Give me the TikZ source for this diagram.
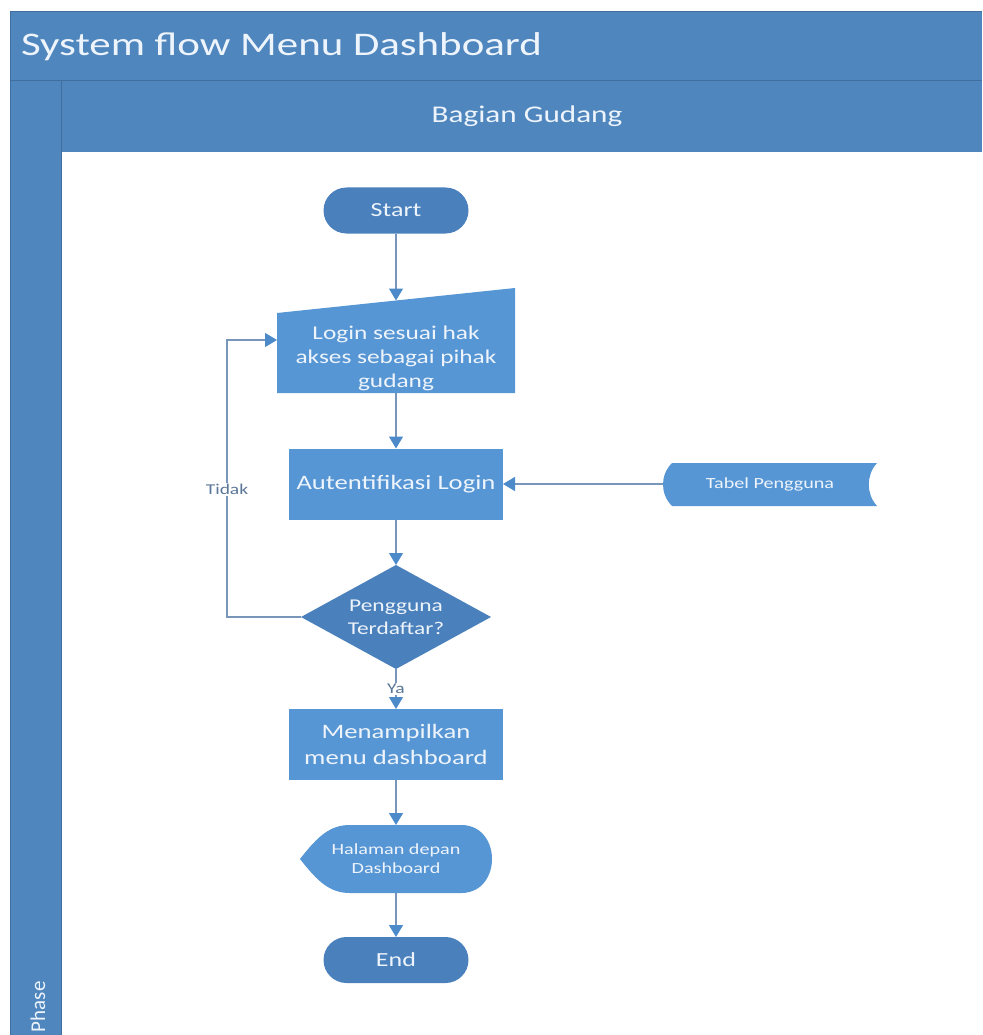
\documentclass[tikz,border=0pt]{standalone}
\usepackage{fontspec}
\setmainfont{Carlito}[FakeStretch=1.3]
\newfontfamily\phasefont{Carlito}
\usetikzlibrary{shapes.geometric,shapes.misc,arrows.meta}

\definecolor{bandblue}{HTML}{4F86BE}
\definecolor{bandline}{HTML}{3F6E9F}
\definecolor{procblue}{HTML}{5796D4}
\definecolor{termblue}{HTML}{4A80BC}
\definecolor{linkgray}{HTML}{7896BA}
\definecolor{tipblue}{HTML}{4C8AC9}
\definecolor{txtlight}{HTML}{EEF4FB}
\definecolor{lbltxt}{HTML}{5A7698}

\begin{document}
\begin{tikzpicture}[x=1pt,y=-1pt,
  every node/.style={inner sep=0pt, outer sep=0pt},
  arr/.style={draw=linkgray, line width=1.1pt,
    -{Triangle[width=14pt,length=12pt,color=tipblue]}},
  term/.style={rounded rectangle, fill=termblue, text=txtlight,
    minimum width=145pt, minimum height=46pt,
    font=\fontsize{20}{24}\selectfont},
  proc/.style={rectangle, fill=procblue, text=txtlight,
    minimum width=214pt, minimum height=71pt, align=center,
    font=\fontsize{20.5}{26}\selectfont},
  plain/.style={text=txtlight, align=center},
  lbl/.style={text=lbltxt, font=\fontsize{15}{18}\selectfont,
    fill=white, inner sep=1.5pt}
]
\useasboundingbox (0,0) rectangle (982,1035);
\fill[white] (0,0) rectangle (982,1035);

% swimlane frame
\fill[bandblue] (10,11) rectangle (982,1035);
\fill[white] (61,152) rectangle (982,1035);
\draw[bandline, line width=0.8pt] (10,1035) -- (10,11) -- (982,11);
\draw[bandline, line width=0.8pt] (10,80) -- (982,80);
\draw[bandline, line width=0.8pt] (61,80) -- (61,1035);

\node[anchor=base west, text=txtlight, font=\fontsize{33}{37}\selectfont]
  (title) at (21,56) {System flow Menu Dashboard};
\node[anchor=base, text=txtlight, font=\fontsize{24}{28}\selectfont]
  (lane) at (527,123) {Bagian Gudang};
\node[anchor=base west, rotate=90, text=txtlight,
  font=\phasefont\fontsize{21}{24}\selectfont]
  (phase) at (45,1032) {Phase};

% shape outlines that are not standard node shapes
\fill[procblue] (277,313) -- (515,288) -- (515,393) -- (277,393) -- cycle;
\fill[procblue] (672,463) -- (877,463)
  .. controls (866,475) and (866,494) .. (877,506) -- (672,506)
  .. controls (660,494) and (660,475) .. (672,463) -- cycle;
\fill[procblue] (300,859) .. controls (318,836) and (330,825) .. (350,825)
  -- (462,825) .. controls (502,826) and (502,892) .. (462,893)
  -- (350,893) .. controls (330,893) and (318,882) .. (300,859) -- cycle;

% nodes
\node[term] (start) at (396,210.5) {Start};
\node[plain, minimum width=238pt, minimum height=70pt,
  font=\fontsize{19.5}{24}\selectfont] (login) at (396,358)
  {Login sesuai hak\\akses sebagai pihak\\gudang};
\node[proc] (auth) at (396,484) {Autentifikasi Login};
\node[plain, minimum width=215pt, minimum height=43pt,
  font=\fontsize{15.5}{19}\selectfont] (tabel) at (770,484) {Tabel Pengguna};
\node[diamond, aspect=1.83, fill=termblue, text=txtlight,
  minimum width=190pt, minimum height=104pt, align=center,
  font=\fontsize{18}{23}\selectfont] (dec) at (396,617) {Pengguna\\Terdaftar?};
\node[proc] (menu) at (396,744.5) {Menampilkan\\menu dashboard};
\node[plain, minimum width=192pt, minimum height=68pt,
  font=\fontsize{15.5}{19}\selectfont] (disp) at (396,859)
  {Halaman depan\\Dashboard};
\node[term] (end) at (396,960) {End};

% connectors
\draw[arr] (start.south) -- ([yshift=22.5pt]login.north);
\draw[arr] (login.south) -- (auth.north);
\draw[arr] (tabel.west) -- (auth.east);
\draw[arr] (auth.south) -- (dec.north);
\draw[arr] (dec.south) -- node[lbl] {Ya} (menu.north);
\draw[arr] (dec.west) -- ++(-74,0) |- node[lbl, pos=0.23] {Tidak}
  ([yshift=18pt]login.west);
\draw[arr] (menu.south) -- (disp.north);
\draw[arr] (disp.south) -- (end.north);
\end{tikzpicture}
\end{document}
